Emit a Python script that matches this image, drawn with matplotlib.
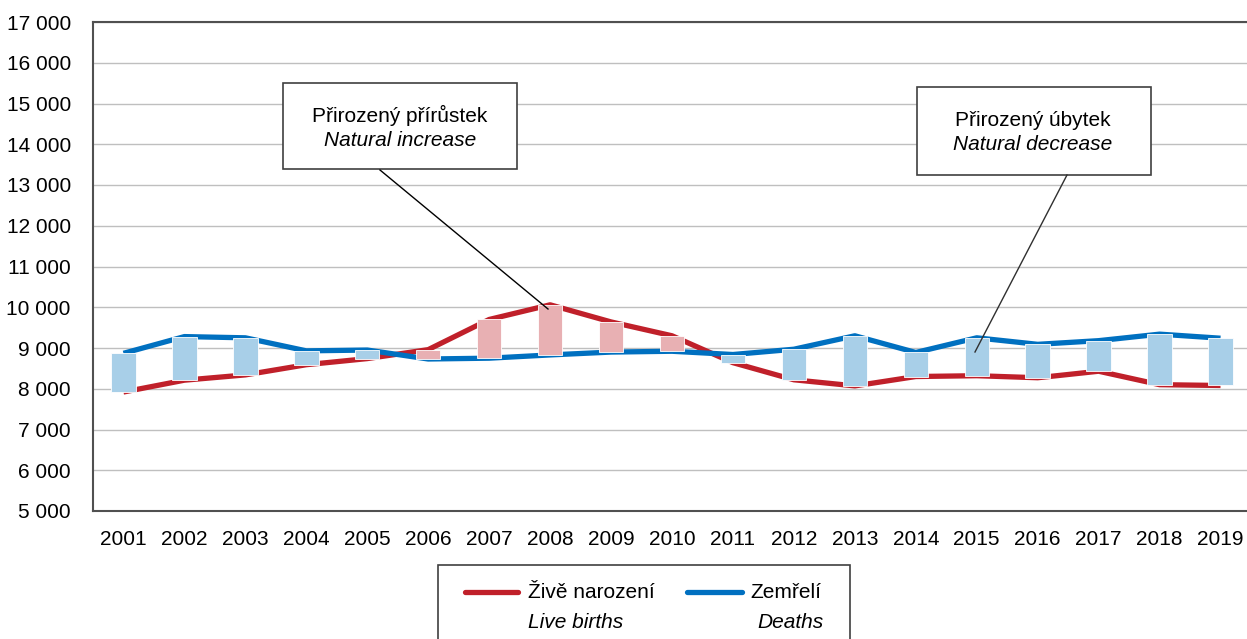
import matplotlib.pyplot as plt
from matplotlib.lines import Line2D
from matplotlib.patches import Rectangle
import numpy as np

plt.rcParams['font.family'] = ['Liberation Sans', 'DejaVu Sans']

# data
years = [2001, 2002, 2003, 2004, 2005, 2006, 2007, 2008, 2009, 2010,
         2011, 2012, 2013, 2014, 2015, 2016, 2017, 2018, 2019]
births = [7920, 8210, 8340, 8590, 8740, 8960, 9700, 10060, 9640, 9300,
          8640, 8220, 8070, 8300, 8320, 8270, 8430, 8100, 8080]
deaths = [8870, 9280, 9250, 8930, 8950, 8730, 8750, 8830, 8900, 8920,
          8840, 8970, 9300, 8890, 9250, 9090, 9180, 9340, 9240]

red = '#C0202A'
blue = '#0070C0'
pink = '#E8B0B3'
lightblue = '#A8CFE8'
fs = 15

W, H = 1247, 639
fig = plt.figure(figsize=(W / 100, H / 100), dpi=100)
ax = fig.add_axes([93 / W, 1 - 511 / H, (1251 - 93) / W, (511 - 22) / H])

x = np.arange(len(years))
b = np.array(births)
d = np.array(deaths)

# lines
ax.plot(x, births, color=red, lw=3.8, zorder=3, solid_capstyle='butt')
ax.plot(x, deaths, color=blue, lw=3.8, zorder=3, solid_capstyle='butt')

# difference bars (pink = births above deaths, blue = deaths above births)
lo = np.minimum(b, d)
hi = np.maximum(b, d)
cols = [pink if bb > dd else lightblue for bb, dd in zip(b, d)]
ax.bar(x, hi - lo, bottom=lo, width=0.4, color=cols, edgecolor='white',
       linewidth=0.6, zorder=4)

ax.set_xlim(-0.5, len(years) - 0.5)
ax.set_ylim(5000, 17000)
ax.set_yticks(range(5000, 17001, 1000))
ax.set_yticklabels([f'{v:,}'.replace(',', ' ') for v in range(5000, 17001, 1000)])
ax.set_xticks(x)
ax.set_xticklabels([str(y) for y in years])
ax.tick_params(length=0, labelsize=fs, colors='black')
ax.tick_params(axis='x', pad=14)
ax.tick_params(axis='y', pad=16)
ax.grid(axis='y', color='#BFBFBF', lw=1)
ax.set_axisbelow(True)
for s in ['left', 'top', 'bottom']:
    ax.spines[s].set_color('#505050')
    ax.spines[s].set_linewidth(1.5)
ax.spines['right'].set_visible(False)

# callout boxes
def px(xp, yp):
    return xp / W, 1 - yp / H

fig.patches.append(Rectangle(px(283, 169), 234 / W, 86 / H, transform=fig.transFigure,
                             facecolor='white', edgecolor='#404040', lw=1.2, zorder=10))
fig.text(*px(400, 115), 'Přirozený přírůstek', ha='center', va='center', fontsize=fs, zorder=11)
fig.text(*px(400, 140), 'Natural increase', ha='center', va='center', fontsize=fs,
         style='italic', zorder=11)
fig.lines.append(Line2D([380 / W, 548 / W], [1 - 170 / H, 1 - 309 / H],
                        transform=fig.transFigure, color='black', lw=1, zorder=12))

fig.patches.append(Rectangle(px(917, 175), 234 / W, 88 / H, transform=fig.transFigure,
                             facecolor='white', edgecolor='#404040', lw=1.2, zorder=10))
fig.text(*px(1033, 120), 'Přirozený úbytek', ha='center', va='center', fontsize=fs, zorder=11)
fig.text(*px(1033, 144), 'Natural decrease', ha='center', va='center', fontsize=fs,
         style='italic', zorder=11)
fig.lines.append(Line2D([1067 / W, 975 / W], [1 - 175 / H, 1 - 352 / H],
                        transform=fig.transFigure, color='#303030', lw=1, zorder=12))

# legend
fig.patches.append(Rectangle(px(438, 645), 412 / W, 80 / H, transform=fig.transFigure,
                             facecolor='white', edgecolor='#404040', lw=1.2, zorder=10))
fig.lines.append(Line2D([465 / W, 518 / W], [1 - 592 / H] * 2, transform=fig.transFigure,
                        color=red, lw=3.8, solid_capstyle='round', zorder=11))
fig.lines.append(Line2D([687 / W, 742 / W], [1 - 592 / H] * 2, transform=fig.transFigure,
                        color=blue, lw=3.8, solid_capstyle='round', zorder=11))
fig.text(*px(528, 592), 'Živě narození', ha='left', va='center', fontsize=fs, zorder=11)
fig.text(*px(528, 623), 'Live births', ha='left', va='center', fontsize=fs,
         style='italic', zorder=11)
fig.text(*px(750, 592), 'Zemřelí', ha='left', va='center', fontsize=fs, zorder=11)
fig.text(*px(824, 623), 'Deaths', ha='right', va='center', fontsize=fs,
         style='italic', zorder=11)

fig.savefig('out.png', dpi=100)
